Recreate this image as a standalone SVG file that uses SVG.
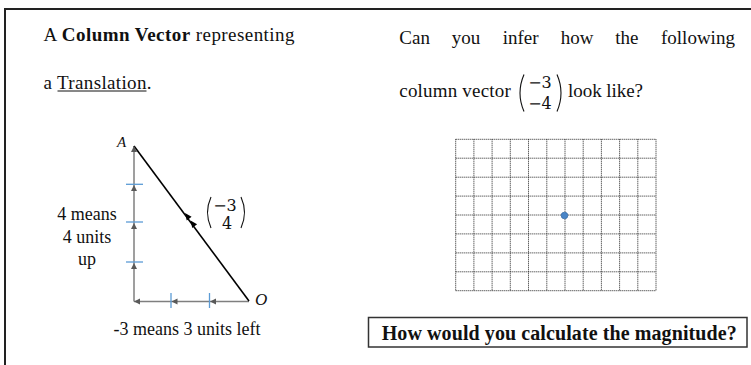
<svg xmlns="http://www.w3.org/2000/svg" width="751" height="365" viewBox="0 0 751 365">
  <style>
    .t { font-family: "Liberation Serif", "Times New Roman", serif; fill: #111; }
    .m { font-family: "DejaVu Serif", "Liberation Serif", serif; fill: #111; font-size: 16px; }
    .axis { stroke: #7f7f7f; stroke-width: 1.5; fill: none; }
    .tick { stroke: #5b9bd5; stroke-width: 1.3; }
    .grid line { stroke: #222; stroke-width: 1; stroke-dasharray: 1 1; }
    .paren { stroke: #111; stroke-width: 1.1; fill: none; }
  </style>
  <defs>
    <path id="ahUp" d="M0,0 L-3,6 L3,6 Z" fill="#595959"/>
    <path id="ahLeft" d="M0,0 L6,-3 L6,3 Z" fill="#595959"/>
    <path id="ahBlk" d="M0,0 L-7,-3 L-7,3 Z" fill="#000"/>
  </defs>
  <rect width="751" height="365" fill="#fff"/>
  <g id="frame">
    <line x1="4" y1="9" x2="751" y2="9" stroke="#222" stroke-width="2"/>
    <line x1="5" y1="9" x2="5" y2="365" stroke="#222" stroke-width="2"/>
  </g>
  <g id="left-title">
    <text class="t" x="43.5" y="41" font-size="19" textLength="251" lengthAdjust="spacing">A <tspan font-weight="bold">Column Vector</tspan> representing</text>
    <text class="t" x="43.5" y="88.5" font-size="19" textLength="108" lengthAdjust="spacing">a Translation.</text>
    <line x1="57.5" y1="91" x2="146.5" y2="91" stroke="#111" stroke-width="1"/>
  </g>
  <g id="right-title">
    <text class="t" y="43.5" font-size="19"><tspan x="399.3">Can</tspan><tspan x="451.7">you</tspan><tspan x="502.7">infer</tspan><tspan x="560.7">how</tspan><tspan x="615.3">the</tspan><tspan x="661">following</tspan></text>
    <text class="t" x="399.3" y="97" font-size="19" textLength="111.5" lengthAdjust="spacing">column vector</text>
    <path class="paren" d="M524,74.5 Q516,93 524,111.5"/>
    <path class="paren" d="M557,74.5 Q565,93 557,111.5"/>
    <text class="m" x="540" y="87.5" text-anchor="middle">−3</text>
    <text class="m" x="540" y="108.5" text-anchor="middle">−4</text>
    <text class="t" x="568" y="97" font-size="19" textLength="75" lengthAdjust="spacing">look like?</text>
  </g>
  <g id="connectors">
    <line class="axis" x1="134" y1="146" x2="134" y2="301.5"/>
    <line class="axis" x1="134" y1="301.5" x2="249" y2="301.5"/>
    <line x1="134" y1="146" x2="249" y2="301" stroke="#000" stroke-width="1.6"/>
    <use href="#ahUp" x="134" y="146"/>
    <use href="#ahUp" x="134" y="185"/>
    <use href="#ahUp" x="134" y="223"/>
    <use href="#ahUp" x="134" y="263"/>
    <use href="#ahLeft" x="134" y="301.5"/>
    <use href="#ahLeft" x="171.5" y="301.5"/>
    <use href="#ahLeft" x="210" y="301.5"/>
    <use href="#ahBlk" transform="translate(185,213) rotate(-126.6)"/>
    <use href="#ahBlk" transform="translate(190.5,220.5) rotate(-126.6)"/>
    <line class="tick" x1="126" y1="184.3" x2="143" y2="184.3"/>
    <line class="tick" x1="126" y1="222" x2="143" y2="222"/>
    <line class="tick" x1="126" y1="262" x2="143" y2="262"/>
    <line class="tick" x1="171" y1="293" x2="171" y2="308"/>
    <line class="tick" x1="209.5" y1="293" x2="209.5" y2="308"/>
  </g>
  <g id="labels">
    <text class="t" x="117" y="147" font-size="15" font-style="italic">A</text>
    <text class="t" x="255" y="305" font-size="17" font-style="italic">O</text>
    <text class="t" x="87" y="220" font-size="18" text-anchor="middle">4 means</text>
    <text class="t" x="87" y="243" font-size="18" text-anchor="middle">4 units</text>
    <text class="t" x="87" y="265" font-size="18" text-anchor="middle">up</text>
    <text class="t" x="187" y="335" font-size="18" text-anchor="middle">-3 means 3 units left</text>
    <path class="paren" d="M211,197 Q204,212.5 211,228"/>
    <path class="paren" d="M241,197 Q248,212.5 241,228"/>
    <text class="m" x="225" y="210.5" text-anchor="middle" font-size="15">−3</text>
    <text class="m" x="227" y="229" text-anchor="middle" font-size="15">4</text>
  </g>
  <g id="grid" class="grid">
    <line x1="455.7" y1="139.3" x2="656" y2="139.3"/>
    <line x1="455.7" y1="158.2" x2="656" y2="158.2"/>
    <line x1="455.7" y1="177.2" x2="656" y2="177.2"/>
    <line x1="455.7" y1="196.1" x2="656" y2="196.1"/>
    <line x1="455.7" y1="215" x2="656" y2="215"/>
    <line x1="455.7" y1="233.9" x2="656" y2="233.9"/>
    <line x1="455.7" y1="252.9" x2="656" y2="252.9"/>
    <line x1="455.7" y1="271.8" x2="656" y2="271.8"/>
    <line x1="455.7" y1="290.7" x2="656" y2="290.7"/>
    <line x1="455.7" y1="139.3" x2="455.7" y2="290.7"/>
    <line x1="473.9" y1="139.3" x2="473.9" y2="290.7"/>
    <line x1="492.1" y1="139.3" x2="492.1" y2="290.7"/>
    <line x1="510.3" y1="139.3" x2="510.3" y2="290.7"/>
    <line x1="528.5" y1="139.3" x2="528.5" y2="290.7"/>
    <line x1="546.8" y1="139.3" x2="546.8" y2="290.7"/>
    <line x1="565" y1="139.3" x2="565" y2="290.7"/>
    <line x1="583.2" y1="139.3" x2="583.2" y2="290.7"/>
    <line x1="601.4" y1="139.3" x2="601.4" y2="290.7"/>
    <line x1="619.6" y1="139.3" x2="619.6" y2="290.7"/>
    <line x1="637.8" y1="139.3" x2="637.8" y2="290.7"/>
    <line x1="656" y1="139.3" x2="656" y2="290.7"/>
  </g>
  <g id="origin-dot">
    <circle cx="564.5" cy="215.5" r="3.3" fill="#4a86c8" stroke="#3a6fa8" stroke-width="0.8"/>
  </g>
  <g id="question-box">
    <rect x="368.5" y="317.5" width="378.5" height="29.5" fill="#fff" stroke="#333" stroke-width="1.5"/>
    <text class="t" x="381.7" y="339.5" font-size="20" font-weight="bold" textLength="355" lengthAdjust="spacing">How would you calculate the magnitude?</text>
  </g>
</svg>
